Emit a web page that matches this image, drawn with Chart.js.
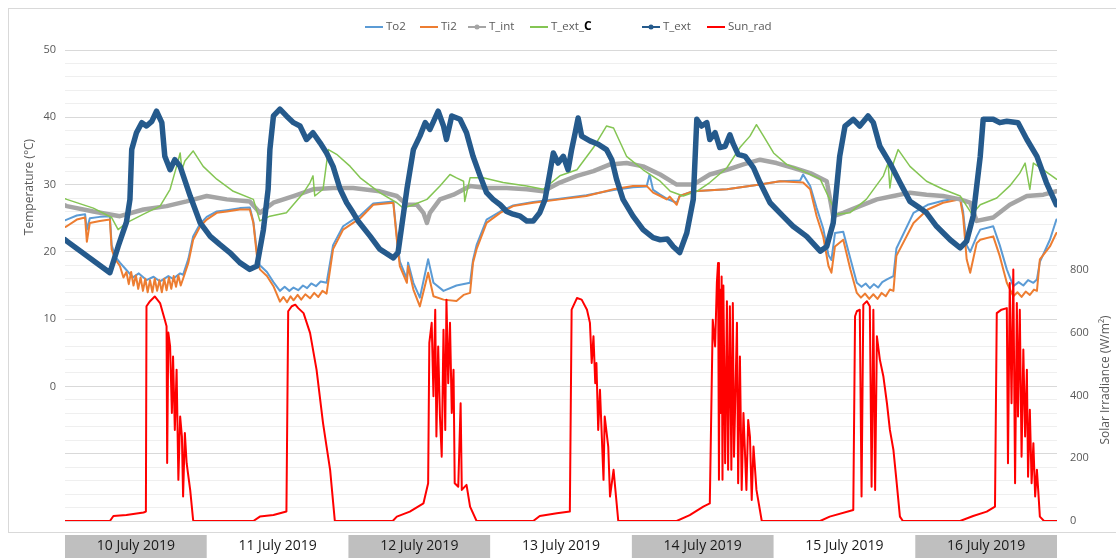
<!DOCTYPE html>
<html><head><meta charset="utf-8">
<script src="https://cdn.jsdelivr.net/npm/chart.js@4.4.1/dist/chart.umd.min.js"></script>
<style>html,body{margin:0;padding:0;background:#fff}canvas{display:block}</style>
</head><body>
<canvas id="c" width="1116" height="558"></canvas>
<script>
// ---- data (x = hours since 10 July 2019 00:00) ----
const dayLabels = ['10 July 2019','11 July 2019','12 July 2019','13 July 2019','14 July 2019','15 July 2019','16 July 2019'];
const tempTicks = [0,10,20,30,40,50];
const sunTicks = [0,200,400,600,800];

const to2 = [[0,24.7],[0.3,24.8],[2.0,25.4],[3.4,25.6],[3.7,23.3],[4.2,25.0],[5.9,25.2],[7.6,25.3],[7.9,21.0],[8.5,19.3],[9.3,18.4],[10.4,17.3],[11.5,16.2],[12.5,16.8],[13.8,15.8],[15.0,16.3],[16.1,15.6],[17.5,16.4],[18.3,16.0],[19.5,16.8],[20.0,16.6],[20.9,19.0],[21.7,22.3],[22.9,24.2],[24.0,25.2],[25.7,26.0],[27.4,26.2],[29.6,26.5],[31.3,26.6],[31.9,24.5],[32.5,20.0],[33.0,18.0],[34.2,17.0],[35.3,15.5],[36.4,14.2],[37.2,14.8],[38.0,14.2],[38.7,14.7],[39.5,14.3],[40.3,15.0],[41.0,14.6],[41.7,15.3],[42.5,14.9],[43.3,15.6],[44.3,15.4],[45.4,21.0],[47.1,23.8],[48.8,24.8],[50.0,25.4],[52.2,27.2],[55.6,27.5],[56.2,22.3],[56.7,18.6],[57.9,16.0],[58.1,18.4],[59.0,15.4],[60.1,13.2],[61.5,18.9],[62.4,15.4],[64.1,14.2],[66.3,15.0],[68.6,15.4],[69.1,18.8],[69.7,21.0],[71.4,24.8],[73.7,26.0],[75.9,26.9],[79.3,27.4],[83.8,27.9],[88.3,28.4],[92.9,29.2],[96.2,29.6],[98.5,29.7],[99.0,31.5],[99.6,29.2],[100.8,28.5],[101.9,27.9],[103.6,27.3],[104.1,28.3],[106.4,29.0],[112.1,29.3],[117.7,30.0],[121.1,30.5],[124.5,30.6],[125.0,31.5],[126.2,29.8],[127.3,26.5],[128.4,23.5],[129.3,19.5],[129.8,18.8],[130.4,22.8],[131.8,23.0],[133.0,19.0],[134.1,15.4],[134.9,14.8],[135.6,15.3],[136.3,14.6],[137.0,15.2],[137.7,14.7],[138.4,15.5],[139.2,15.9],[140.3,16.4],[140.8,20.5],[143.7,25.8],[146.1,27.0],[148.7,27.6],[151.6,28.0],[152.1,26.0],[152.7,21.0],[153.3,20.0],[154.4,22.3],[155.0,23.3],[157.2,23.8],[158.3,21.0],[159.5,17.4],[160.6,14.9],[161.5,15.5],[162.3,15.0],[163.1,15.8],[164.0,15.4],[164.6,15.9],[165.1,18.5],[166.8,21.8],[167.9,24.8]];

const ti2 = [[0,23.7],[0.3,23.8],[2.0,24.8],[3.4,25.1],[3.7,21.5],[4.2,24.3],[5.9,24.6],[7.6,24.8],[7.9,20.4],[8.5,18.9],[9.3,17.9],[9.9,16.2],[10.4,17.0],[10.8,15.2],[11.2,17.0],[11.6,15.0],[12.0,16.5],[12.4,14.5],[12.8,16.2],[13.2,14.2],[13.6,16.0],[14.0,14.0],[14.4,15.8],[14.8,14.0],[15.2,16.0],[15.6,14.2],[16.0,15.8],[16.4,14.0],[16.8,16.0],[17.2,14.3],[17.6,16.2],[18.0,14.5],[18.4,16.4],[18.8,14.8],[19.2,16.5],[19.6,15.0],[20.0,16.0],[20.9,18.4],[21.7,21.8],[22.9,23.8],[24.0,24.8],[25.7,25.8],[27.4,26.0],[29.6,26.3],[31.3,26.3],[31.9,24.3],[32.5,19.4],[33.0,17.4],[34.2,16.4],[35.3,14.9],[36.4,12.6],[37.0,13.3],[37.6,12.5],[38.2,13.4],[38.7,12.8],[39.4,13.6],[40.0,12.9],[40.7,13.7],[41.5,13.1],[42.2,13.9],[42.9,13.3],[43.6,14.2],[44.3,13.8],[45.4,20.4],[47.1,23.3],[48.8,24.3],[50.0,25.0],[52.2,27.0],[55.6,27.3],[56.2,21.8],[56.7,17.9],[57.9,15.4],[58.1,17.9],[59.0,14.4],[60.1,11.9],[61.5,16.9],[62.4,13.4],[64.1,12.9],[66.3,12.7],[67.5,13.6],[68.6,13.9],[69.1,18.4],[69.7,20.4],[71.4,24.3],[73.7,25.8],[75.9,26.8],[79.3,27.3],[83.8,27.8],[88.3,28.3],[92.9,29.3],[96.2,29.8],[98.5,29.8],[99.6,28.8],[100.8,28.3],[101.9,27.8],[102.4,28.2],[103.6,27.0],[104.1,28.3],[106.4,29.0],[112.1,29.3],[117.7,30.0],[121.1,30.5],[125.0,30.3],[126.2,29.3],[127.3,25.3],[128.4,22.3],[129.3,17.9],[129.8,16.9],[130.4,20.8],[131.8,21.8],[133.0,17.4],[134.1,13.9],[134.8,13.2],[135.5,13.8],[136.2,13.0],[136.9,13.7],[137.6,13.0],[138.3,13.9],[139.0,13.4],[139.7,14.4],[140.3,14.2],[140.8,19.4],[143.7,24.3],[146.1,26.3],[148.7,27.3],[151.6,27.8],[152.1,25.3],[152.7,18.9],[153.3,16.9],[154.4,21.3],[155.0,21.8],[157.2,22.3],[158.3,19.4],[159.5,15.4],[160.6,13.4],[161.3,14.0],[162.0,13.3],[162.7,14.1],[163.4,13.6],[164.1,14.4],[164.6,14.2],[165.1,18.9],[166.8,20.8],[167.9,22.8]];

const tInt = [[0,26.9],[0.3,26.8],[4.8,26.0],[9.3,25.3],[13.3,26.3],[17.2,26.8],[20.6,27.5],[24.0,28.3],[27.4,27.8],[31.3,27.5],[33.0,25.8],[35.3,27.3],[38.7,28.3],[42.0,29.3],[45.4,29.5],[48.8,29.5],[53.3,29.0],[56.2,28.3],[57.9,27.0],[59.6,27.0],[60.7,25.8],[61.3,24.3],[61.8,25.8],[63.5,27.8],[65.8,28.5],[68.6,29.8],[71.4,29.5],[74.8,29.5],[78.2,29.3],[81.0,29.0],[83.8,30.3],[86.7,31.3],[89.5,32.0],[92.3,33.0],[95.1,33.2],[97.9,32.7],[100.8,31.5],[103.6,30.0],[106.4,30.0],[109.2,31.5],[112.1,32.2],[114.9,33.0],[117.7,33.7],[120.5,33.2],[123.3,32.5],[126.2,31.7],[129.0,30.5],[130.1,25.3],[131.8,25.8],[134.6,26.8],[137.5,27.8],[140.3,28.3],[143.1,28.8],[145.9,28.5],[148.7,28.3],[151.6,27.8],[153.3,27.3],[154.4,24.6],[157.2,25.1],[160.0,27.0],[162.9,28.3],[165.7,28.5],[167.9,29.0]];

const tExtC = [[0,27.9],[0.3,27.8],[4.8,26.5],[7.9,25.1],[9.0,23.3],[10.4,24.3],[13.3,25.6],[16.1,26.8],[17.8,29.3],[18.9,32.7],[19.5,34.7],[19.8,32.2],[20.3,33.5],[21.7,35.0],[23.4,32.7],[25.7,30.8],[28.5,29.0],[31.9,27.8],[33.0,24.6],[34.7,25.3],[37.5,25.8],[40.4,28.8],[41.5,30.3],[42.0,31.3],[42.3,28.3],[43.7,29.3],[44.6,35.2],[46.0,34.5],[48.3,32.7],[50.0,31.0],[53.3,28.8],[56.2,27.3],[57.3,26.5],[59.0,27.0],[61.3,27.8],[63.5,29.8],[65.2,31.5],[66.3,31.0],[67.5,30.5],[67.7,27.5],[68.6,31.0],[70.8,31.0],[74.2,30.3],[78.2,29.8],[81.0,29.3],[83.8,31.3],[86.7,32.2],[89.5,35.5],[91.7,38.7],[92.9,38.4],[95.1,34.2],[97.9,32.2],[100.8,30.5],[102.5,29.0],[104.7,28.3],[107.0,29.0],[109.2,30.3],[112.1,32.5],[114.3,35.5],[116.0,37.2],[117.1,38.9],[118.3,37.2],[120.0,34.7],[122.2,33.0],[125.0,32.0],[127.9,30.8],[129.5,27.8],[130.7,25.6],[132.9,25.8],[135.7,27.8],[138.6,31.3],[139.4,33.2],[139.7,29.5],[140.3,33.2],[141.1,35.2],[143.1,32.7],[145.9,30.5],[148.7,29.3],[151.6,28.3],[153.6,25.6],[155.0,27.0],[157.8,28.0],[160.0,29.8],[161.7,31.7],[162.6,33.2],[163.4,29.3],[164.0,33.2],[165.7,32.2],[167.9,30.8]];

const tExt = [[0,21.8],[0.3,21.6],[7.6,16.9],[9.0,20.8],[10.4,24.4],[11.0,27.8],[11.3,35.2],[12.1,37.7],[13.0,39.2],[13.8,38.7],[14.7,39.4],[15.5,40.9],[16.4,39.2],[16.9,34.2],[17.8,32.2],[18.6,33.7],[19.5,32.7],[21.2,28.3],[22.9,24.3],[24.6,22.3],[26.2,21.1],[27.9,19.9],[29.6,18.4],[31.3,17.4],[32.5,17.9],[33.6,23.3],[34.4,29.3],[34.7,35.2],[35.3,40.2],[36.4,41.2],[37.5,40.2],[38.7,39.2],[39.8,38.7],[40.9,36.7],[42.0,37.7],[43.2,36.2],[44.3,34.7],[45.4,32.7],[46.6,29.3],[47.7,27.3],[48.8,25.8],[49.7,24.5],[51.7,22.3],[53.3,20.4],[55.6,19.1],[56.4,19.9],[57.9,29.3],[59.0,35.2],[60.1,37.2],[61.0,39.2],[61.8,38.2],[63.2,40.9],[64.1,38.7],[64.6,36.7],[65.5,40.2],[66.9,39.7],[68.0,37.7],[69.1,34.2],[70.3,31.3],[71.4,28.8],[72.5,27.8],[73.7,27.0],[74.8,26.0],[75.9,25.6],[77.1,25.3],[78.2,24.6],[79.3,24.6],[80.4,25.8],[81.3,27.8],[82.1,31.7],[82.7,34.7],[83.5,33.2],[84.4,34.2],[85.2,32.2],[85.8,35.2],[86.4,37.7],[86.9,39.9],[87.5,37.2],[88.9,36.5],[90.3,36.0],[91.7,35.2],[92.6,33.7],[93.4,30.8],[94.5,27.8],[96.2,25.3],[97.9,23.3],[99.6,22.1],[100.8,21.8],[102.0,21.9],[103.0,20.8],[104.1,19.9],[105.3,22.8],[106.4,27.8],[107.0,39.7],[107.8,38.7],[108.7,39.2],[109.2,36.7],[110.1,37.7],[110.9,35.5],[111.8,35.7],[112.6,37.4],[113.2,36.0],[114.0,34.5],[115.2,34.2],[116.6,32.5],[117.7,30.3],[119.4,27.3],[121.6,25.3],[123.3,23.8],[125.6,22.3],[127.9,20.1],[129.0,20.8],[130.1,24.3],[131.2,34.2],[132.1,38.7],[133.5,39.7],[134.6,38.7],[136.0,40.2],[136.9,39.2],[138.0,35.7],[139.7,33.2],[141.4,30.3],[143.1,27.5],[144.8,26.5],[145.9,25.8],[147.6,23.8],[149.9,21.8],[151.6,20.6],[152.7,21.6],[153.8,25.3],[155.0,34.2],[155.5,39.7],[157.2,39.7],[158.3,39.2],[159.5,39.4],[161.4,39.2],[162.9,36.7],[164.6,34.2],[166.2,30.3],[167.9,27.0]];

const sunRad = [[0,0],[7.6,0],[8.2,16],[10.4,19],[13.3,27],[13.7,30],[13.8,684],[14.4,700],[15.2,715],[16.1,694],[16.9,641],[17.2,620],[17.3,185],[17.5,600],[17.8,556],[18.1,344],[18.3,524],[18.6,290],[18.9,482],[19.2,131],[19.5,333],[19.8,269],[20.0,78],[20.3,280],[20.6,184],[21.2,99],[21.7,3],[21.9,0],
[31.9,0],[33.0,14],[35.3,19],[37.5,30],[37.8,668],[38.4,684],[39.0,689],[39.5,678],[40.4,662],[41.5,599],[42.6,482],[43.7,312],[44.3,237],[44.9,163],[45.7,0],
[55.5,0],[56.2,14],[58.4,30],[60.7,56],[61.5,120],[61.7,567],[62.1,631],[62.4,397],[62.7,673],[62.9,269],[63.2,556],[63.5,333],[63.8,205],[64.1,609],[64.4,290],[64.6,705],[64.9,439],[65.2,631],[65.5,344],[65.8,482],[66.0,120],[66.6,109],[67.0,375],[67.2,99],[68.0,115],[68.6,46],[69.7,0],
[79.3,0],[80.4,16],[83.3,25],[85.5,30],[85.8,673],[86.7,710],[87.5,705],[88.4,673],[88.9,631],[89.2,503],[89.5,588],[89.8,439],[90.0,503],[90.3,290],[90.6,418],[91.2,131],[91.4,333],[92.0,237],[92.3,78],[92.9,163],[93.7,0],
[103.6,0],[105.8,19],[108.1,46],[109.2,56],[109.7,641],[110.1,556],[110.4,760],[110.6,822],[110.75,131],[110.9,737],[111.05,344],[111.2,779],[111.35,131],[111.5,750],[111.8,184],[112.1,700],[112.3,163],[112.6,684],[112.85,163],[113.1,694],[113.3,205],[113.8,631],[114.0,120],[114.3,524],[114.6,99],[114.9,344],[115.4,99],[115.7,322],[116.0,269],[116.3,67],[116.6,237],[117.1,99],[118.0,0],
[127.9,0],[129.5,14],[133.5,35],[133.8,652],[134.1,668],[134.6,673],[134.9,78],[135.2,689],[135.8,700],[136.3,684],[136.6,109],[136.9,673],[137.2,99],[137.5,588],[138.0,514],[138.6,460],[139.2,375],[139.7,290],[140.3,226],[140.8,131],[141.4,14],[141.9,0],
[151.6,0],[153.8,16],[156.1,30],[157.5,46],[157.8,662],[158.6,673],[159.5,678],[159.7,184],[160.0,758],[160.3,375],[160.6,801],[160.9,120],[161.2,694],[161.4,333],[161.7,673],[162.0,205],[162.3,546],[162.6,269],[162.9,482],[163.1,141],[163.4,354],[163.7,120],[164.0,248],[164.3,78],[164.6,163],[165.1,14],[165.8,0],[168,0]];

// ---- chart ----
const FONT = "'Open Sans', 'Noto Sans', sans-serif";
const pts = a => a.map(([x, y]) => ({x, y}));
const legendX = [365, 420, 468, 530, 642, 707];

const decor = {
  id: 'decor',
  beforeDraw(chart) {
    const {ctx} = chart;
    const xs = chart.scales.x;
    ctx.save();
    ctx.fillStyle = '#ffffff';
    ctx.fillRect(0, 0, chart.width, chart.height);
    ctx.strokeStyle = '#d9d9d9';
    ctx.lineWidth = 1;
    ctx.strokeRect(8.5, 8.5, 1130, 524);
    ctx.fillStyle = '#bfbfbf';
    for (let i = 0; i < dayLabels.length; i += 2) {
      const x0 = xs.getPixelForValue(24 * i), x1 = xs.getPixelForValue(24 * (i + 1));
      ctx.fillRect(x0, 535, x1 - x0, 23);
    }
    ctx.fillStyle = '#595959';
    ctx.font = "12px " + FONT;
    ctx.textAlign = 'center';
    ctx.textBaseline = 'middle';
    ctx.save(); ctx.translate(30, 187); ctx.rotate(-Math.PI / 2);
    ctx.fillText('Temperature (°C)', 0, 0); ctx.restore();
    ctx.save(); ctx.translate(1106, 380); ctx.rotate(-Math.PI / 2);
    ctx.fillText('Solar Irradiance (W/m²)', 0, 0); ctx.restore();
    ctx.restore();
  },
  afterDraw(chart) {
    const {ctx} = chart;
    ctx.save();
    const y = 27;
    chart.data.datasets.forEach((ds, i) => {
      const x = legendX[i];
      ctx.strokeStyle = ds.borderColor;
      ctx.lineWidth = 2;
      ctx.beginPath(); ctx.moveTo(x, y); ctx.lineTo(x + 18, y); ctx.stroke();
      if (ds.legendMarker) {
        ctx.fillStyle = ds.borderColor;
        ctx.beginPath(); ctx.arc(x + 9, y, 2.5, 0, Math.PI * 2); ctx.fill();
      }
      ctx.font = "11.5px " + FONT;
      ctx.fillStyle = '#595959';
      ctx.textAlign = 'left';
      ctx.textBaseline = 'middle';
      const label = ds.label;
      if (label === 'T_ext_C') {
        ctx.fillText('T_ext_', x + 21, y);
        const w = ctx.measureText('T_ext_').width;
        ctx.font = "bold 12px " + FONT;
        ctx.fillStyle = '#000000';
        ctx.fillText('C', x + 21 + w, y);
      } else {
        ctx.fillText(label, x + 21, y);
      }
    });
    ctx.restore();
  }
};

const mk = (label, data, color, width, axis, order, marker) => ({
  label, data: pts(data), borderColor: color, backgroundColor: color,
  borderWidth: width, pointRadius: 0, tension: 0, yAxisID: axis, order,
  legendMarker: !!marker, borderJoinStyle: 'round', borderCapStyle: 'round', fill: false
});

new Chart(document.getElementById('c'), {
  type: 'line',
  data: {
    datasets: [
      mk('To2', to2, '#5b9bd5', 2, 'y', 6),
      mk('Ti2', ti2, '#ed7d31', 2, 'y', 5),
      mk('T_int', tInt, '#a5a5a5', 4.5, 'y', 4, true),
      mk('T_ext_C', tExtC, '#84c553', 1.5, 'y', 3),
      mk('T_ext', tExt, '#255a8c', 5.5, 'y', 2, true),
      mk('Sun_rad', sunRad, '#ff0000', 2, 'y2', 1)
    ]
  },
  options: {
    responsive: false, animation: false, devicePixelRatio: 1,
    layout: {padding: {top: 50, left: 0, right: 0, bottom: 0}},
    plugins: {legend: {display: false}, tooltip: {enabled: false}},
    scales: {
      x: {
        type: 'linear', min: 0, max: 168,
        grid: {display: false, drawTicks: false}, border: {display: false},
        afterBuildTicks(s) { s.ticks = dayLabels.map((_, i) => ({value: 24 * i + 12})); },
        ticks: {autoSkip: false, maxRotation: 0, padding: 17, color: '#1a1a1a',
          font: {family: FONT, size: 14},
          callback: v => dayLabels[Math.floor(v / 24)]},
        afterFit(s) { s.height = 37; }
      },
      y: {
        position: 'left', min: -20, max: 50,
        afterBuildTicks(s) { const t = []; for (let v = -20; v <= 50; v += 2) t.push({value: v}); s.ticks = t; },
        ticks: {autoSkip: false, padding: 9, color: '#595959', font: {family: FONT, size: 11},
          callback: v => tempTicks.includes(v) ? String(v) : ''},
        grid: {drawTicks: false, lineWidth: 1,
          color: c => (c.tick && c.tick.value % 10 === 0) ? '#d9d9d9' : '#efefef'},
        border: {display: false},
        afterFit(s) { s.width = 65; }
      },
      y2: {
        position: 'right', min: 0, max: 1500,
        afterBuildTicks(s) { s.ticks = sunTicks.map(v => ({value: v})); },
        ticks: {autoSkip: false, padding: 13, color: '#595959', font: {family: FONT, size: 11}},
        grid: {display: false, drawTicks: false}, border: {display: false},
        afterFit(s) { s.width = 59; }
      }
    }
  },
  plugins: [decor]
});
</script>
</body></html>
